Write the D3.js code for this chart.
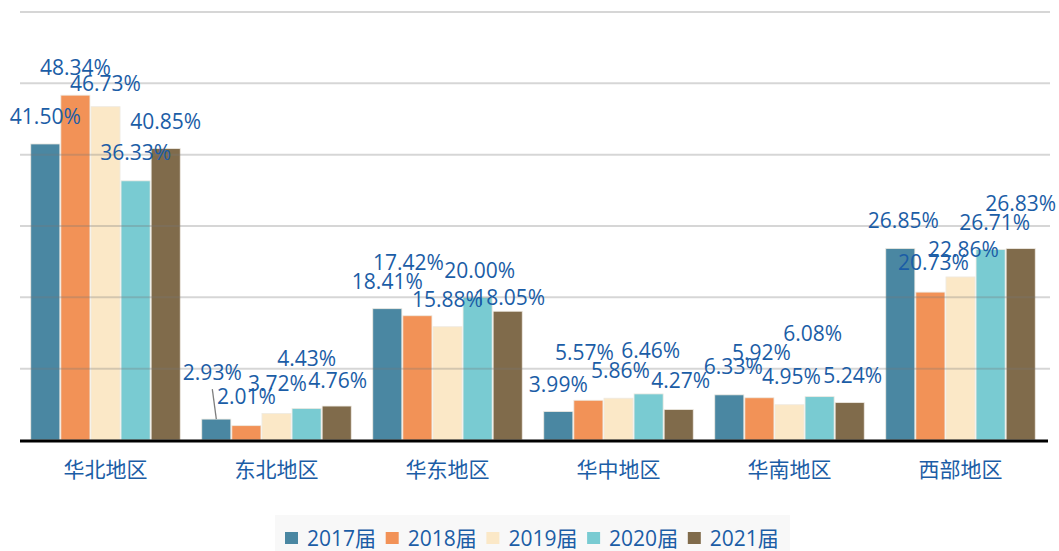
<!DOCTYPE html>
<html>
<head>
<meta charset="utf-8">
<script src="https://cdn.jsdelivr.net/npm/d3@7"></script>
<style>
  body { margin: 0; background: #fff; }
  text { font-family: "Open Sans", "Noto Sans CJK SC", sans-serif; }
</style>
</head>
<body>
<div id="container"></div>
<script>
// categories and series
const regions = ["华北地区", "东北地区", "华东地区", "华中地区", "华南地区", "西部地区"]
const years = ["2017届", "2018届", "2019届", "2020届", "2021届"]

const v2017 = [41.50, 2.93, 18.41, 3.99, 6.33, 26.85]
const v2018 = [48.34, 2.01, 17.42, 5.57, 5.92, 20.73]
const v2019 = [46.73, 3.72, 15.88, 5.86, 4.95, 22.86]
const v2020 = [36.33, 4.43, 20.00, 6.46, 6.08, 26.71]
const v2021 = [40.85, 4.76, 18.05, 4.27, 5.24, 26.83]
const series = [v2017, v2018, v2019, v2020, v2021]

const yTicks = [0, 10, 20, 30, 40, 50, 60]

// styling / label nudges (kept apart from the data)
const colors = ["#4a87a2", "#f29257", "#fbe8c7", "#79cbd2", "#806b4b"]
const labelNudge = [
  [[0,-28],[-4,-47],[0,-28],[0,-28],[4,-29],[3,-28]],
  [[0,-28],[0,-30],[-9,-54],[-4,-48],[2,-46],[3,-30]],
  [[0,-24],[1,-30],[0,-28],[2,-28],[2,-29],[3,-28]],
  [[0,-29],[0,-50],[2,-27],[2,-44],[-7,-64],[4,-27]],
  [[0,-28],[1,-26],[2,-14],[2,-30],[3,-28],[0,-46]]
]

const width = 1059, height = 551
const margin = { top: 12, bottom: 111, left: 20, right: 13 }
const blue = "#1b5da6"

const svg = d3.select("#container").append("svg")
  .attr("width", width).attr("height", height)

const x0 = d3.scaleBand()
  .domain(regions)
  .range([margin.left, width - margin.right])
  .paddingInner(0.12)
  .paddingOuter(0.06)

const x1 = d3.scaleBand()
  .domain(d3.range(years.length))
  .range([0, x0.bandwidth()])

const y = d3.scaleLinear()
  .domain([0, 60])
  .range([height - margin.bottom, margin.top])

// bars
const groups = svg.selectAll("g.region")
  .data(regions)
  .join("g")
  .attr("class", "region")
  .attr("transform", d => `translate(${x0(d)},0)`)

groups.selectAll("rect")
  .data((d, i) => series.map((s, k) => ({ k, v: s[i] })))
  .join("rect")
  .attr("x", d => x1(d.k) + 0.5)
  .attr("width", x1.bandwidth() - 1)
  .attr("y", d => y(d.v))
  .attr("height", d => y(0) - y(d.v))
  .attr("fill", d => colors[d.k])
  .attr("stroke", "#eeeae2")
  .attr("stroke-width", 0.8)

// gridlines on top, semi transparent
svg.append("g")
  .selectAll("line")
  .data(yTicks.filter(t => t > 0))
  .join("line")
  .attr("x1", margin.left)
  .attr("x2", width - 9)
  .attr("y1", d => y(d))
  .attr("y2", d => y(d))
  .attr("stroke", "rgba(120,120,120,0.3)")
  .attr("stroke-width", 2)

// baseline
svg.append("line")
  .attr("x1", margin.left).attr("x2", width - 11)
  .attr("y1", y(0) + 1).attr("y2", y(0) + 1)
  .attr("stroke", "#000").attr("stroke-width", 3)

// leader line for the 东北 2017 label
const lx = x0(regions[1]) + x1(0) + x1.bandwidth() / 2
svg.append("line")
  .attr("x1", lx - 4).attr("y1", y(v2017[1]) - 30)
  .attr("x2", lx).attr("y2", y(v2017[1]))
  .attr("stroke", "#7f7f7f").attr("stroke-width", 1.3)

// value labels
series.forEach((s, k) => {
  svg.append("g")
    .selectAll("text")
    .data(s)
    .join("text")
    .attr("x", (d, i) => x0(regions[i]) + x1(k) + x1.bandwidth() / 2 + labelNudge[k][i][0])
    .attr("y", (d, i) => y(d) + labelNudge[k][i][1])
    .attr("text-anchor", "middle")
    .attr("dominant-baseline", "central")
    .attr("font-size", 21)
    .attr("fill", blue)
    .text(d => d.toFixed(2) + "%")
})

// category axis labels
svg.append("g")
  .selectAll("text")
  .data(regions)
  .join("text")
  .attr("x", d => x0(d) + x0.bandwidth() / 2)
  .attr("y", y(0) + 29)
  .attr("text-anchor", "middle")
  .attr("dominant-baseline", "central")
  .attr("font-size", 21)
  .attr("fill", blue)
  .text(d => d)

// legend
const legend = svg.append("g")
svg.insert("rect", "g")
  .attr("x", 275).attr("y", 515)
  .attr("width", 515).attr("height", 36)
  .attr("fill", "#f8f8f8")

const item = legend.selectAll("g")
  .data(years)
  .join("g")
  .attr("transform", (d, i) => `translate(${285 + i * 100.7},538)`)

item.append("rect")
  .attr("x", 0).attr("y", -6)
  .attr("width", 13).attr("height", 12)
  .attr("fill", (d, i) => colors[i])

item.append("text")
  .attr("x", 22)
  .attr("dominant-baseline", "central")
  .attr("font-size", 21)
  .attr("fill", blue)
  .text(d => d)
</script>
</body>
</html>
